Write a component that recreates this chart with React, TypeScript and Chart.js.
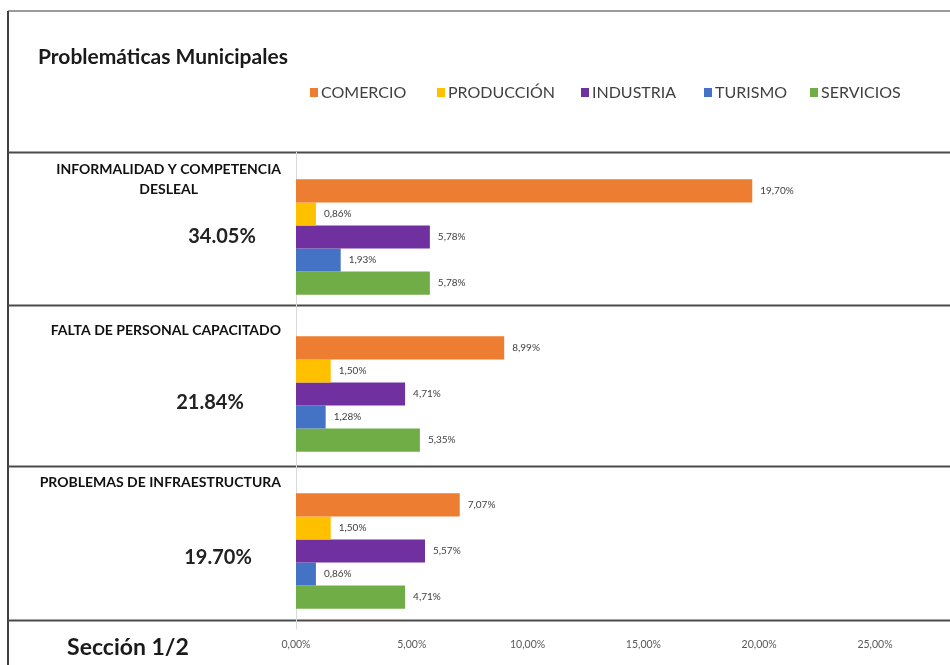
import React, { useEffect, useRef } from "react";
import { Chart, registerables } from "chart.js";

Chart.register(...registerables);

const categories = [
  ["INFORMALIDAD Y COMPETENCIA", "DESLEAL"],
  ["FALTA DE PERSONAL CAPACITADO"],
  ["PROBLEMAS DE INFRAESTRUCTURA"],
];
const totals = ["34.05%", "21.84%", "19.70%"];
const seriesNames = ["COMERCIO", "PRODUCCIÓN", "INDUSTRIA", "TURISMO", "SERVICIOS"];
const comercio = [19.7, 8.99, 7.07];
const produccion = [0.86, 1.5, 1.5];
const industria = [5.78, 4.71, 5.57];
const turismo = [1.93, 1.28, 0.86];
const servicios = [5.78, 5.35, 4.71];
const seriesColors = ["#ED7D31", "#FFC000", "#7030A0", "#4472C4", "#70AD47"];
const xMax = 25;
const xStep = 5;
const title = "Problemáticas Municipales";
const footer = "Sección 1/2";

const FONT = "Lato, 'Open Sans', sans-serif";
const fmt = (v: number) => v.toFixed(2).replace(".", ",") + "%";

const legendX = [310, 437, 581, 704, 810];

const decorPlugin = {
  id: "decor",
  beforeDraw(chart: any) {
    const ctx = chart.ctx;
    const area = chart.chartArea;
    const band = (area.bottom - area.top) / categories.length;
    ctx.save();
    ctx.fillStyle = "#ffffff";
    ctx.fillRect(0, 0, chart.width, chart.height);
    // frame
    ctx.strokeStyle = "#9a9a9a";
    ctx.lineWidth = 2;
    ctx.beginPath();
    ctx.moveTo(8, 11);
    ctx.lineTo(chart.width, 11);
    ctx.stroke();
    ctx.strokeStyle = "#404040";
    ctx.beginPath();
    ctx.moveTo(8, 11);
    ctx.lineTo(8, chart.height);
    ctx.stroke();
    // section separators
    const offs = [-6.5, -10.5, -6.5, -9.5];
    ctx.strokeStyle = "#4a4a4a";
    for (let i = 0; i <= categories.length; i++) {
      const yy = Math.round(area.top + band * i + offs[i]) + 0.5;
      ctx.beginPath();
      ctx.moveTo(8, yy);
      ctx.lineTo(chart.width, yy);
      ctx.stroke();
    }
    // vertical axis line
    ctx.strokeStyle = "#d9d9d9";
    ctx.lineWidth = 1;
    ctx.beginPath();
    ctx.moveTo(Math.round(area.left) + 0.5, area.top + offs[0]);
    ctx.lineTo(Math.round(area.left) + 0.5, area.bottom);
    ctx.stroke();
    ctx.restore();
  },
  afterDraw(chart: any) {
    const ctx = chart.ctx;
    const yScale = chart.scales.y;
    const area = chart.chartArea;
    const band = (area.bottom - area.top) / categories.length;
    ctx.save();
    // title
    ctx.fillStyle = "#1a1a1a";
    ctx.font = `bold 21px ${FONT}`;
    ctx.textAlign = "left";
    ctx.textBaseline = "middle";
    ctx.fillText(title, 38, 57);
    // legend
    ctx.font = `16px ${FONT}`;
    seriesNames.forEach((n, i) => {
      ctx.fillStyle = seriesColors[i];
      ctx.fillRect(legendX[i], 88, 8, 9);
      ctx.fillStyle = "#404040";
      ctx.fillText(n, legendX[i] + 11, 93);
    });
    // category labels
    const catOffs = [18, 22, 17];
    categories.forEach((lines, i) => {
      ctx.font = `bold 14px ${FONT}`;
      ctx.fillStyle = "#111";
      const w = Math.max(...lines.map((l) => ctx.measureText(l).width));
      const right = 281;
      const cx = right - w / 2;
      const top = area.top + band * i - 7 + catOffs[i];
      ctx.textAlign = "center";
      lines.forEach((l, j) => ctx.fillText(l, cx, top + j * 20));
      // totals
      ctx.font = `bold 20px ${FONT}`;
      ctx.fillStyle = "#222";
      const ty = yScale.getPixelForValue(i) + [0, 9, 7][i];
      ctx.fillText(totals[i], [222, 210, 218][i], ty);
    });
    // value labels
    ctx.font = `10px ${FONT}`;
    ctx.fillStyle = "#404040";
    ctx.textAlign = "left";
    chart.data.datasets.forEach((ds: any, di: number) => {
      const meta = chart.getDatasetMeta(di);
      meta.data.forEach((bar: any, i: number) => {
        ctx.fillText(fmt(ds.data[i]), bar.x + 8, bar.y);
      });
    });
    // footer
    ctx.font = `bold 23px ${FONT}`;
    ctx.fillStyle = "#1a1a1a";
    ctx.textAlign = "center";
    ctx.fillText(footer, 128, 648);
    ctx.restore();
  },
};

export default function App() {
  const ref = useRef<HTMLCanvasElement>(null);
  useEffect(() => {
    document.body.style.margin = "0";
    const values = [comercio, produccion, industria, turismo, servicios];
    const chart = new Chart(ref.current!, {
      type: "bar",
      data: {
        labels: categories.map((c) => c.join(" ")),
        datasets: seriesNames.map((n, i) => ({
          label: n,
          data: values[i],
          backgroundColor: seriesColors[i],
          borderWidth: 0,
          barPercentage: 1,
          categoryPercentage: 0.735,
        })),
      },
      options: {
        indexAxis: "y",
        responsive: false,
        animation: false,
        layout: { padding: { left: 296, top: 158.5, right: 75, bottom: 0 } },
        plugins: { legend: { display: false }, title: { display: false }, tooltip: { enabled: false } },
        scales: {
          x: {
            min: 0,
            max: xMax,
            afterFit: (s: any) => { s.height = 35.5; },
            grid: { display: false },
            border: { display: false },
            ticks: {
              stepSize: xStep,
              padding: 1,
              color: "#595959",
              font: { family: FONT, size: 10.5 },
              callback: (v: any) => fmt(Number(v)),
            },
          },
          y: {
            afterFit: (s: any) => { s.width = 0; },
            grid: { display: false },
            border: { display: false },
            ticks: { display: false },
          },
        },
      },
      plugins: [decorPlugin],
    });
    return () => chart.destroy();
  }, []);
  return (
    <div style={{ position: "absolute", left: 0, top: 0, width: 950, height: 665 }}>
      <canvas ref={ref} width={950} height={665} />
    </div>
  );
}
